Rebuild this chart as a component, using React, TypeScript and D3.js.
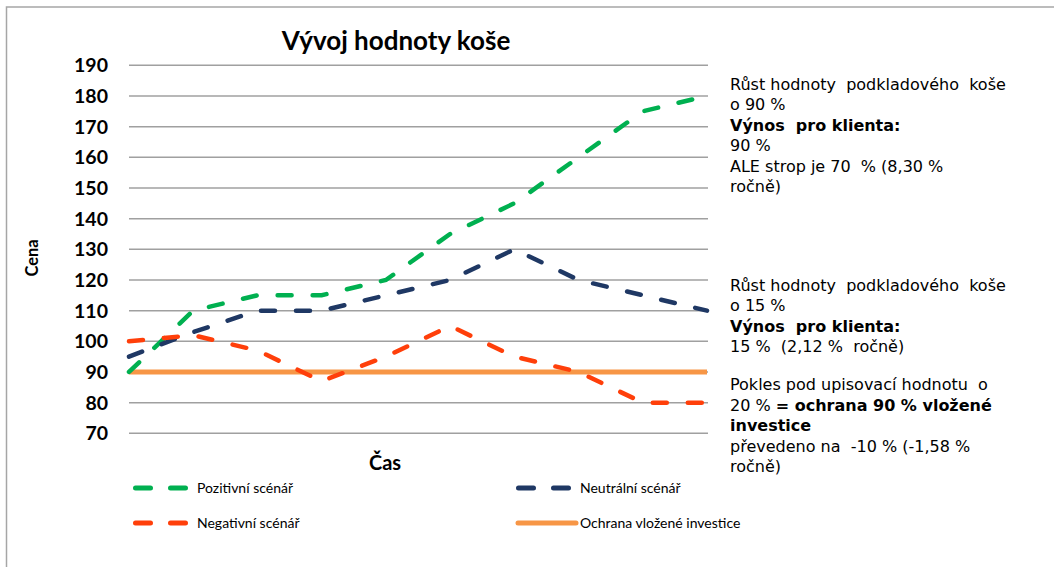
import React from "react";
import * as d3 from "d3";

const periods = [0, 1, 2, 3, 4, 5, 6, 7, 8, 9];
const positive = [90, 110, 115, 115, 120, 135, 145, 160, 175, 180];
const neutral = [95, 103, 110, 110, 115, 120, 130, 120, 115, 110];
const negative = [100, 102, 97, 87, 95, 105, 95, 90, 80, 80];
const protection = [90, 90, 90, 90, 90, 90, 90, 90, 90, 90];
const yTicks = [70, 80, 90, 100, 110, 120, 130, 140, 150, 160, 170, 180, 190];

const seriesNames = ["Pozitivní scénář", "Neutrální scénář", "Negativní scénář", "Ochrana vložené investice"];
const colors = { pos: "#00B050", neu: "#1F3864", neg: "#FF3F0A", prot: "#F79646" };

const W = 1054;
const H = 567;

export default function App() {
  const x = d3.scaleLinear().domain([0, 9]).range([129, 707]);
  const y = d3.scaleLinear().domain([70, 190]).range([433.3, 65.3]);
  const line = d3
    .line<number>()
    .x((_, i) => x(periods[i]))
    .y((d) => y(d));

  const calibri = "Lato, 'Open Sans', sans-serif";
  const dash = { strokeDasharray: "14,21", strokeLinecap: "round" as const };

  const rt: React.CSSProperties = { fontFamily: "'DejaVu Sans', 'Noto Sans', sans-serif", fontSize: "16px", whiteSpace: "pre" };

  return (
    <svg width={W} height={H} style={{ position: "absolute", left: 0, top: 0, background: "#fff" }}>
      <rect x={0} y={0} width={W} height={H} fill="#fff" />
      <rect x={6.5} y={7} width={W + 20} height={H + 20} fill="none" stroke="#a6a6a6" strokeWidth={1.5} />

      <text x={396} y={50} textAnchor="middle" fontFamily={calibri} fontWeight="bold" fontSize={26} fill="#000">
        Vývoj hodnoty koše
      </text>

      {yTicks.map((t) => (
        <g key={t}>
          <line x1={129} x2={708} y1={y(t)} y2={y(t)} stroke="#a0a0a0" strokeWidth={1.5} />
          <text x={108} y={y(t)} dy="0.36em" textAnchor="end" fontFamily={calibri} fontWeight="bold" fontSize={19.5} fill="#000">
            {t}
          </text>
        </g>
      ))}

      <text transform="translate(38,258) rotate(-90)" textAnchor="middle" fontFamily={calibri} fontWeight="bold" fontSize={16.5} fill="#000">
        Cena
      </text>
      <text x={385} y={470} textAnchor="middle" fontFamily={calibri} fontWeight="bold" fontSize={20} fill="#000">
        Čas
      </text>

      <path d={line(protection) || ""} fill="none" stroke={colors.prot} strokeWidth={5} />
      <path d={line(positive) || ""} fill="none" stroke={colors.pos} strokeWidth={4.5} {...dash} />
      <path d={line(neutral) || ""} fill="none" stroke={colors.neu} strokeWidth={4.5} {...dash} />
      <path d={line(negative) || ""} fill="none" stroke={colors.neg} strokeWidth={4.5} {...dash} />

      {/* right notes */}
      <text style={rt} fill="#000">
        <tspan x={730} y={90}>Růst hodnoty  podkladového  koše</tspan>
        <tspan x={730} y={110}>o 90 %</tspan>
        <tspan x={730} y={131} fontWeight="bold">Výnos  pro klienta:</tspan>
        <tspan x={730} y={151}>90 %</tspan>
        <tspan x={730} y={172}>ALE strop je 70  % (8,30 %</tspan>
        <tspan x={730} y={192}>ročně)</tspan>
      </text>
      <text style={rt} fill="#000">
        <tspan x={730} y={291}>Růst hodnoty  podkladového  koše</tspan>
        <tspan x={730} y={311}>o 15 %</tspan>
        <tspan x={730} y={332} fontWeight="bold">Výnos  pro klienta:</tspan>
        <tspan x={730} y={352}>15 %  (2,12 %  ročně)</tspan>
      </text>
      <text style={rt} fill="#000">
        <tspan x={730} y={390}>Pokles pod upisovací hodnotu  o</tspan>
        <tspan x={730} y={411}>20 % </tspan>
        <tspan fontWeight="bold">= ochrana 90 % vložené</tspan>
        <tspan x={730} y={431} fontWeight="bold">investice</tspan>
        <tspan x={730} y={452}>převedeno na  -10 % (-1,58 %</tspan>
        <tspan x={730} y={472}>ročně)</tspan>
      </text>

      {/* legend */}
      <g fontFamily={calibri} fontSize={14} fill="#000">
        <line x1={135.5} x2={185.5} y1={488} y2={488} stroke={colors.pos} strokeWidth={5} strokeDasharray="15,20" strokeLinecap="round" />
        <text x={197} y={488} dy="0.35em">{seriesNames[0]}</text>
        <line x1={518.5} x2={568.5} y1={488} y2={488} stroke={colors.neu} strokeWidth={5} strokeDasharray="15,20" strokeLinecap="round" />
        <text x={580} y={488} dy="0.35em">{seriesNames[1]}</text>
        <line x1={135.5} x2={185.5} y1={523} y2={523} stroke={colors.neg} strokeWidth={5} strokeDasharray="15,20" strokeLinecap="round" />
        <text x={197} y={523} dy="0.35em">{seriesNames[2]}</text>
        <line x1={518} x2={576} y1={523} y2={523} stroke={colors.prot} strokeWidth={5} strokeLinecap="round" />
        <text x={580} y={523} dy="0.35em">{seriesNames[3]}</text>
      </g>
    </svg>
  );
}
